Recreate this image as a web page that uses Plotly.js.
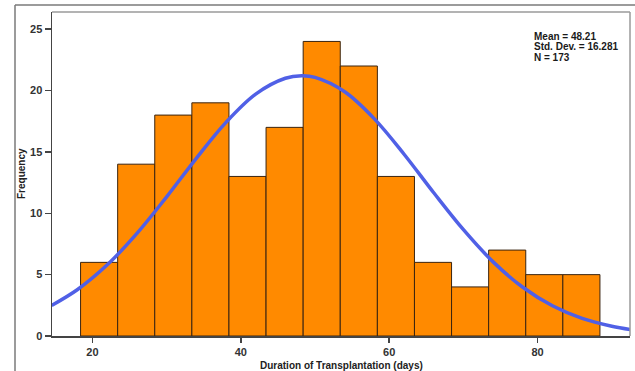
<!DOCTYPE html>
<html>
<head>
<meta charset="utf-8">
<script src="https://cdn.plot.ly/plotly-3.0.1.min.js"></script>
<style>
html,body{margin:0;padding:0;background:#fff;}
#chart{width:635px;height:371px;}
</style>
</head>
<body>
<div id="chart"></div>
<script>
// Histogram data
var binStart = 18.4;
var binWidth = 5;
var counts = [6, 14, 18, 19, 13, 17, 24, 22, 13, 6, 4, 7, 5, 5];

// Normal curve overlay
var curveX = [14.5, 18, 22, 26, 30, 34, 38, 42, 46, 48.2, 50, 54, 58, 62, 66, 70, 74, 78, 82, 86, 90, 92.5];
var curveY = [2.49, 3.79, 5.80, 8.36, 11.34, 14.48, 17.41, 19.71, 21.00, 21.20, 21.07, 19.90, 17.69, 14.81, 11.67, 8.66, 6.04, 3.97, 2.46, 1.43, 0.79, 0.52];

var statsLines = ["Mean = 48.21", "Std. Dev. = 16.281", "N = 173"];
var xTicks = [20, 40, 60, 80];
var yTicks = [0, 5, 10, 15, 20, 25];
var xTitle = "Duration of Transplantation (days)";
var yTitle = "Frequency";

var binCenters = counts.map(function(_, i){ return binStart + binWidth * i + binWidth / 2; });

var FONT = "Liberation Sans, Arial, sans-serif";
var W = 635, H = 371;
function px(x){ return x / W; }
function py(y){ return (H - y) / H; }

var traces = [
  {
    type: "bar",
    x: binCenters,
    y: counts,
    width: binWidth,
    marker: {color: "#FF8A00", line: {color: "#3a2410", width: 1}},
    hoverinfo: "x+y"
  },
  {
    type: "scatter",
    mode: "lines",
    x: curveX,
    y: curveY,
    line: {color: "#5060E6", width: 3.5, shape: "spline"},
    hoverinfo: "skip"
  },
  {
    // empty trace so the full-page helper subplot exists
    type: "scatter", mode: "markers", x: [], y: [],
    xaxis: "x2", yaxis: "y2", hoverinfo: "skip"
  }
];

var statsYpx = [36, 47, 58];
var annotations = statsLines.map(function(t, i){
  return {
    xref: "paper", yref: "paper", x: px(533), y: py(statsYpx[i]),
    xanchor: "left", yanchor: "middle", showarrow: false,
    borderpad: 0,
    text: "<b>" + t + "</b>",
    font: {family: FONT, size: 10, color: "#1a1a1a"}
  };
});
annotations.push({
  xref: "paper", yref: "paper", x: px(22), y: py(174),
  xanchor: "center", yanchor: "middle", showarrow: false, textangle: -90,
  text: "<b>" + yTitle + "</b>",
  font: {family: FONT, size: 10, color: "#222"}
});
annotations.push({
  xref: "paper", yref: "paper", x: px(341), y: py(365),
  xanchor: "center", yanchor: "middle", showarrow: false,
  text: "<b>" + xTitle + "</b>",
  font: {family: FONT, size: 10, color: "#222"}
});

var layout = {
  width: W, height: H,
  margin: {l: 0, r: 0, t: 0, b: 0},
  paper_bgcolor: "#ffffff",
  plot_bgcolor: "rgba(0,0,0,0)",
  showlegend: false,
  bargap: 0,
  xaxis: {
    domain: [px(52), px(630)],
    range: [14.55, 92.45],
    tickvals: xTicks,
    ticktext: xTicks.map(function(v){ return "<b>" + v + "</b>"; }),
    ticks: "outside", ticklen: 5, tickwidth: 1.5, tickcolor: "#444",
    showgrid: false, zeroline: false,
    showline: true, linecolor: "#444", linewidth: 1.5,
    tickfont: {family: FONT, size: 11, color: "#333"}
  },
  yaxis: {
    domain: [py(336), py(12)],
    range: [0, 26.4],
    tickvals: yTicks,
    ticktext: yTicks.map(function(v){ return "<b>" + v + "</b>"; }),
    ticks: "outside", ticklen: 6, tickwidth: 1.5, tickcolor: "#444",
    showgrid: false, zeroline: false,
    showline: true, linecolor: "#444", linewidth: 1.5,
    tickfont: {family: FONT, size: 11, color: "#333"}
  },
  // helper axes spanning the whole picture, in pixel units, for the outer frame
  xaxis2: {domain: [0, 1], range: [0, W], visible: false, anchor: "y2", fixedrange: true},
  yaxis2: {domain: [0, 1], range: [H, 0], visible: false, anchor: "x2", fixedrange: true},
  annotations: annotations,
  shapes: [
    {type: "line", xref: "paper", yref: "paper", x0: px(52), x1: px(630), y0: py(12), y1: py(12), line: {color: "#9a9a9a", width: 1.5}},
    {type: "line", xref: "paper", yref: "paper", x0: px(630), x1: px(630), y0: py(336), y1: py(12), line: {color: "#9a9a9a", width: 1.5}},
    {type: "line", xref: "x2", yref: "y2", x0: 15, x1: 640, y0: 5, y1: 5, line: {color: "#7a7a7a", width: 1.5}},
    {type: "line", xref: "x2", yref: "y2", x0: 15, x1: 15, y0: 5, y1: 380, line: {color: "#7a7a7a", width: 1.5}}
  ]
};

Plotly.newPlot("chart", traces, layout, {displayModeBar: false, staticPlot: true});
</script>
</body>
</html>
